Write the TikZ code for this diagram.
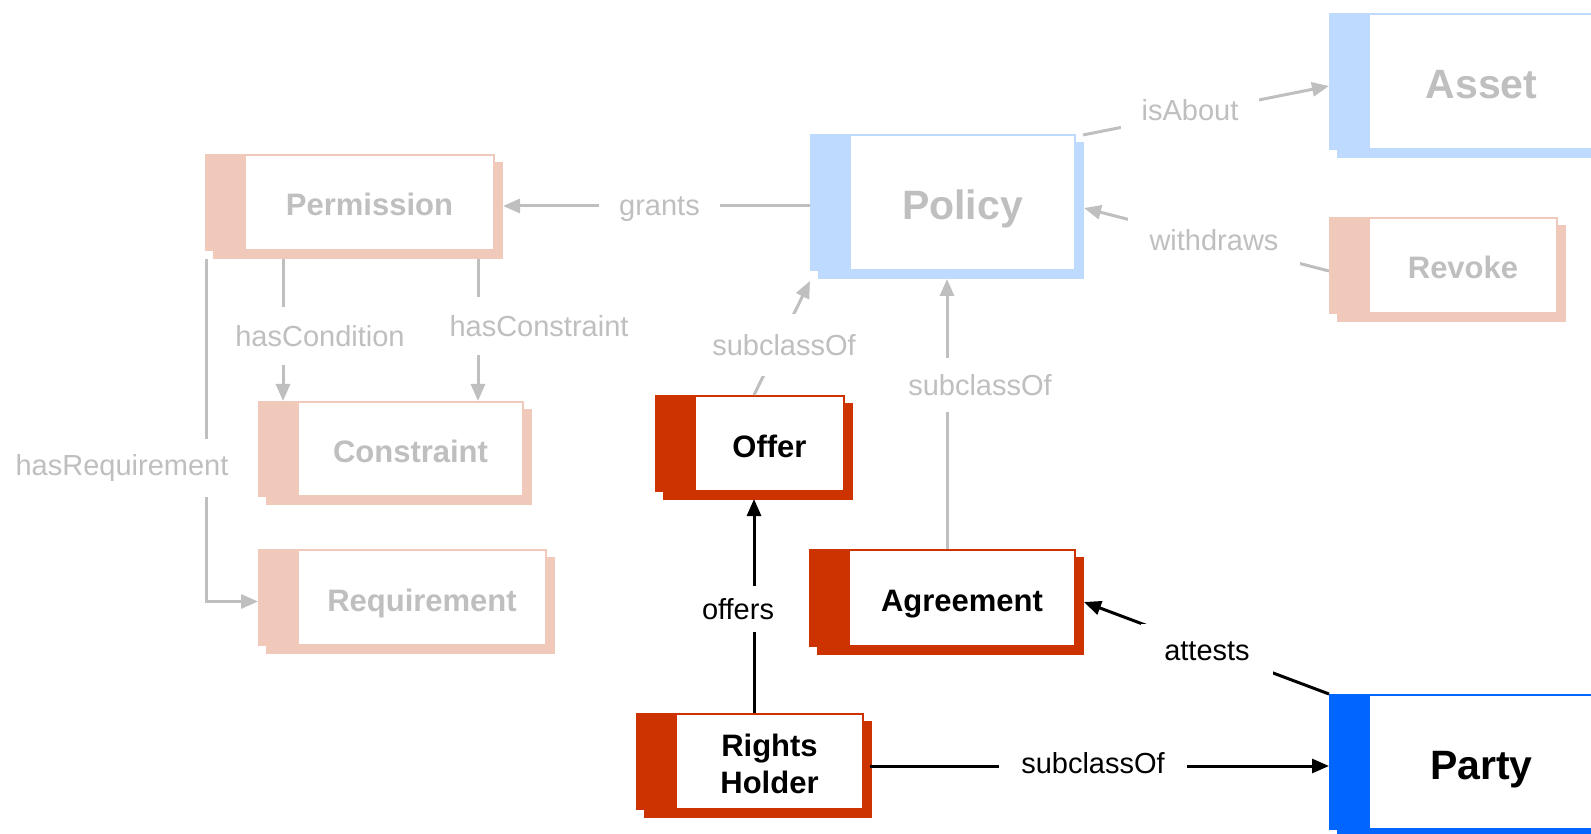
\documentclass[tikz,border=0pt]{standalone}
\usepackage{fontspec}
\setmainfont{Liberation Sans}
\usetikzlibrary{arrows.meta,calc}
\definecolor{salmon}{HTML}{F1C9BB}
\definecolor{lblue}{HTML}{BFDAFF}
\definecolor{dred}{HTML}{CC3300}
\definecolor{dblue}{HTML}{0066FF}
\definecolor{lgray}{HTML}{BFBFBF}
\newcommand{\umlbox}[8]{%
  \fill[#6] ({#2+8},{#3+8}) rectangle ({#4+8},{#5+8});
  \node[fill=#6, inner sep=0pt, outer sep=0pt, minimum width={(#4-#2)*1pt}, minimum height={(#5-#3)*1pt}, anchor=north west] (#1) at (#2,#3) {};
  \fill[white] ({#2+41},{#3+2}) rectangle ({#4-2},{#5-2});
  \node[#7] (#1-t) at ({(#2+39+#4)/2},{(#3+#5)/2+2.5}) {#8};
}
\tikzset{
  fadedtxt/.style={text=lgray, font=\fontsize{31}{37}\selectfont\bfseries, inner sep=0pt, text height=22pt, text depth=0pt},
  fadedbig/.style={text=lgray, font=\fontsize{41}{48}\selectfont\bfseries, inner sep=0pt, text height=29.5pt, text depth=0pt},
  activetxt/.style={text=black, font=\fontsize{31}{37}\selectfont\bfseries, inner sep=0pt, text height=22pt, text depth=0pt},
  activetwo/.style={text=black, font=\fontsize{31}{37}\selectfont\bfseries, inner sep=0pt, align=center},
  activebig/.style={text=black, font=\fontsize{41}{48}\selectfont\bfseries, inner sep=0pt, text height=29.5pt, text depth=0pt},
  garr/.style={draw=lgray, line width=3pt, -{Triangle[length=17pt,width=14pt]}},
  barr/.style={draw=black, line width=3pt, -{Triangle[length=17pt,width=14pt]}},
  glab/.style={fill=white, text=lgray, font=\fontsize{29}{35}\selectfont},
  blab/.style={fill=white, text=black, font=\fontsize{29}{35}\selectfont},
}
\begin{document}
\begin{tikzpicture}[x=1pt,y=-1pt]
\useasboundingbox (0,0) rectangle (1591,834);
\begin{scope}
\clip (0,0) rectangle (1591,834);
% boxes
\umlbox{perm}{205}{154}{495}{251}{salmon}{fadedtxt}{Permission}
\umlbox{constr}{258}{401}{524}{497}{salmon}{fadedtxt}{Constraint}
\umlbox{req}{258}{549}{547}{646}{salmon}{fadedtxt}{Requirement}
\umlbox{policy}{810}{134}{1076}{271}{lblue}{fadedbig}{Policy}
\umlbox{asset}{1329}{13}{1595}{150}{lblue}{fadedbig}{Asset}
\umlbox{revoke}{1329}{217}{1558}{314}{salmon}{fadedtxt}{Revoke}
\umlbox{offer}{655}{395}{845}{492}{dred}{activetxt}{Offer}
\umlbox{agree}{809}{549}{1076}{647}{dred}{activetxt}{Agreement}
\umlbox{rh}{636}{713}{864}{810}{dred}{activetwo}{Rights\\Holder}
\umlbox{party}{1329}{694}{1595}{830}{dblue}{activebig}{Party}
\end{scope}
% faded connectors
\draw[garr] (policy.west |- 0,206) -- ($(perm.east)+(8,3.5)$);
\draw[garr] ($(perm.south west)+(78,8)$) -- ($(constr.north west)+(25,0)$);
\draw[garr] ($(perm.south west)+(273,8)$) -- ($(constr.north west)+(220,0)$);
\draw[garr] ($(perm.south west)+(1,8)$) |- ($(req.west)+(0,4)$);
\draw[garr] ($(policy.north east)+(7,1)$) -- ($(asset.west)+(0,4.5)$);
\draw[garr] ($(revoke.west)+(0,5.5)$) -- ($(policy.east)+(8,5.5)$);
\draw[garr] ($(offer.north)+(4,0)$) -- ($(policy.south west)+(0,10)$);
\draw[garr] (agree.north -| 947,0) -- ($(policy.south -| 947,0)+(0,8)$);
% active connectors
\draw[barr] (rh.north -| 754,0) -- ($(offer.south -| 754,0)+(0,7)$);
\draw[barr] ($(rh.east)+(6,4.5)$) -- (party.west |- 0,766);
\draw[barr] (party.north west) -- ($(agree.east)+(8,4)$);
% labels
\node[glab, inner xsep=20pt, inner ysep=4pt] (lgrants) at (659.5,209) {grants};
\node[glab, inner xsep=2pt, inner ysep=18pt] (lcond) at (320,336) {hasCondition};
\node[glab, inner xsep=2pt, inner ysep=18pt] (lcons) at (539,326) {hasConstraint};
\node[glab, inner xsep=2pt, inner ysep=15pt] (lreq) at (122,468) {hasRequirement};
\node[glab, inner xsep=21pt, inner ysep=10pt] (labout) at (1190,110) {isAbout};
\node[glab, inner xsep=22pt, inner ysep=14pt] (lwith) at (1214,240) {withdraws};
\node[glab, inner xsep=2pt, inner ysep=20pt] (lsub1) at (784,345) {subclassOf};
\node[glab, inner xsep=2pt, inner ysep=16pt] (lsub2) at (980,385) {subclassOf};
\node[blab, inner xsep=2pt, inner ysep=12pt] (loffers) at (738,609) {offers};
\node[blab, inner xsep=22pt, inner ysep=2pt] (lsub3) at (1093,763) {subclassOf};
\node[blab, inner xsep=23pt, inner ysep=17pt] (lattests) at (1207,651) {attests};
\end{tikzpicture}
\end{document}
